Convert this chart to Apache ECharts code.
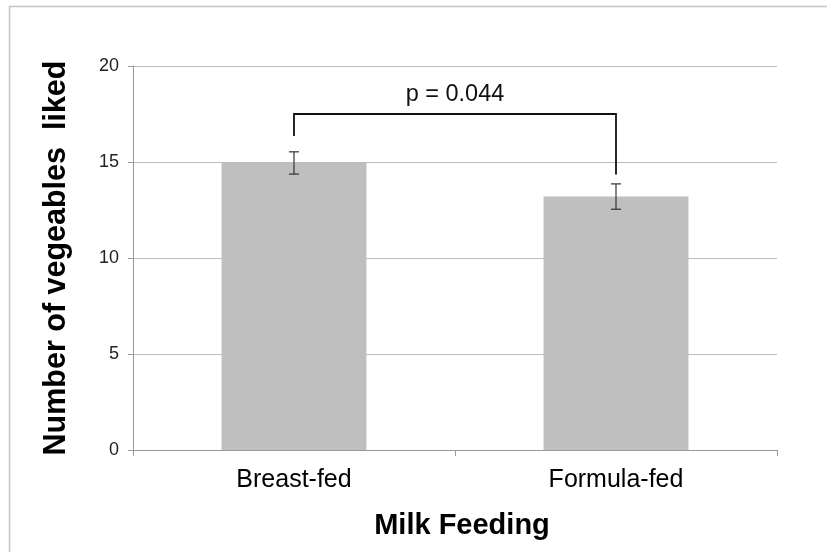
<!DOCTYPE html>
<html>
<head>
<meta charset="utf-8">
<style>
html,body{margin:0;padding:0;background:#fff;}
#chart{width:827px;height:552px;}
</style>
<script src="https://cdn.jsdelivr.net/npm/echarts@6/dist/echarts.min.js"></script>
</head>
<body>
<div id="chart"></div>
<script>
const categories = ['Breast-fed', 'Formula-fed'];
const means = [14.95, 13.2];
const errors = [0.58, 0.66];
const yTicks = [0, 5, 10, 15, 20];
// bracket: [top level, left leg end, right leg end]
const bracketLevels = [17.5, 16.35, 14.35];
const pLabel = 'p = 0.044';
const pLabelLevel = 18.5;
const xTitle = 'Milk Feeding';
const yTitle = 'Number of vegeables  liked';

const FONT = '"Liberation Sans", Arial, sans-serif';
const chart = echarts.init(document.getElementById('chart'), null, {renderer: 'canvas'});

const option = {
  backgroundColor: '#ffffff',
  animation: false,
  graphic: [{
    type: 'rect', silent: true, z: -10,
    shape: {x: 9.5, y: 6.5, width: 1000, height: 1000},
    style: {fill: 'none', stroke: '#c4c4c4', lineWidth: 1.5}
  }],
  grid: {left: 133, right: 50, top: 66, bottom: 102, containLabel: false},
  xAxis: {
    type: 'category',
    data: categories,
    name: xTitle,
    nameLocation: 'middle',
    nameGap: 61,
    nameTextStyle: {fontFamily: FONT, fontSize: 29, fontWeight: 'bold', color: '#000', padding: [0, 0, 0, 14]},
    axisLine: {lineStyle: {color: '#9a9a9a', width: 1}},
    axisTick: {show: true, length: 6, alignWithLabel: false, lineStyle: {color: '#9a9a9a'}},
    axisLabel: {fontFamily: FONT, fontSize: 25, color: '#000', margin: 18},
    splitLine: {show: false}
  },
  yAxis: {
    type: 'value',
    min: yTicks[0],
    max: yTicks[yTicks.length - 1],
    interval: yTicks[1] - yTicks[0],
    name: yTitle,
    nameLocation: 'middle',
    nameGap: 61,
    nameTextStyle: {fontFamily: FONT, fontSize: 30.5, fontWeight: 'bold', color: '#000'},
    axisLine: {show: true, lineStyle: {color: '#9a9a9a', width: 1}},
    axisTick: {show: true, length: 5, lineStyle: {color: '#9a9a9a'}},
    axisLabel: {fontFamily: FONT, fontSize: 18, color: '#222', margin: 14},
    splitLine: {show: true, lineStyle: {color: '#bdbdbd', width: 1.2}}
  },
  series: [
    {
      type: 'bar',
      data: means,
      barWidth: '45%',
      itemStyle: {color: '#bfbfbf'},
      silent: true,
      z: 2
    },
    {
      type: 'custom',
      silent: true,
      z: 5,
      data: means.map((m, i) => [i, m - errors[i], m + errors[i]]),
      renderItem: function (params, api) {
        const lo = api.coord([api.value(0), api.value(1)]);
        const hi = api.coord([api.value(0), api.value(2)]);
        const hw = 5;
        const st = {stroke: '#333', lineWidth: 1.2};
        return {
          type: 'group',
          children: [
            {type: 'line', shape: {x1: hi[0], y1: hi[1], x2: lo[0], y2: lo[1]}, style: st},
            {type: 'line', shape: {x1: hi[0] - hw, y1: hi[1], x2: hi[0] + hw, y2: hi[1]}, style: st},
            {type: 'line', shape: {x1: lo[0] - hw, y1: lo[1], x2: lo[0] + hw, y2: lo[1]}, style: st}
          ]
        };
      }
    },
    {
      type: 'custom',
      silent: true,
      z: 6,
      data: [[0, 1, bracketLevels[0], bracketLevels[1], bracketLevels[2], pLabelLevel]],
      renderItem: function (params, api) {
        const top0 = api.coord([api.value(0), api.value(2)]);
        const top1 = api.coord([api.value(1), api.value(2)]);
        const l = api.coord([api.value(0), api.value(3)]);
        const r = api.coord([api.value(1), api.value(4)]);
        const ty = api.coord([api.value(0), api.value(5)])[1];
        const tx = (top0[0] + top1[0]) / 2;
        const st = {stroke: '#111', lineWidth: 1.8, fill: 'none'};
        return {
          type: 'group',
          children: [
            {type: 'polyline', shape: {points: [[l[0], l[1]], [top0[0], top0[1]], [top1[0], top1[1]], [r[0], r[1]]]}, style: st},
            {type: 'text', x: tx, y: ty, style: {text: pLabel, fontFamily: FONT, fontSize: 23.5, fill: '#111', align: 'center', verticalAlign: 'middle'}}
          ]
        };
      }
    }
  ]
};
chart.setOption(option);
</script>
</body>
</html>
